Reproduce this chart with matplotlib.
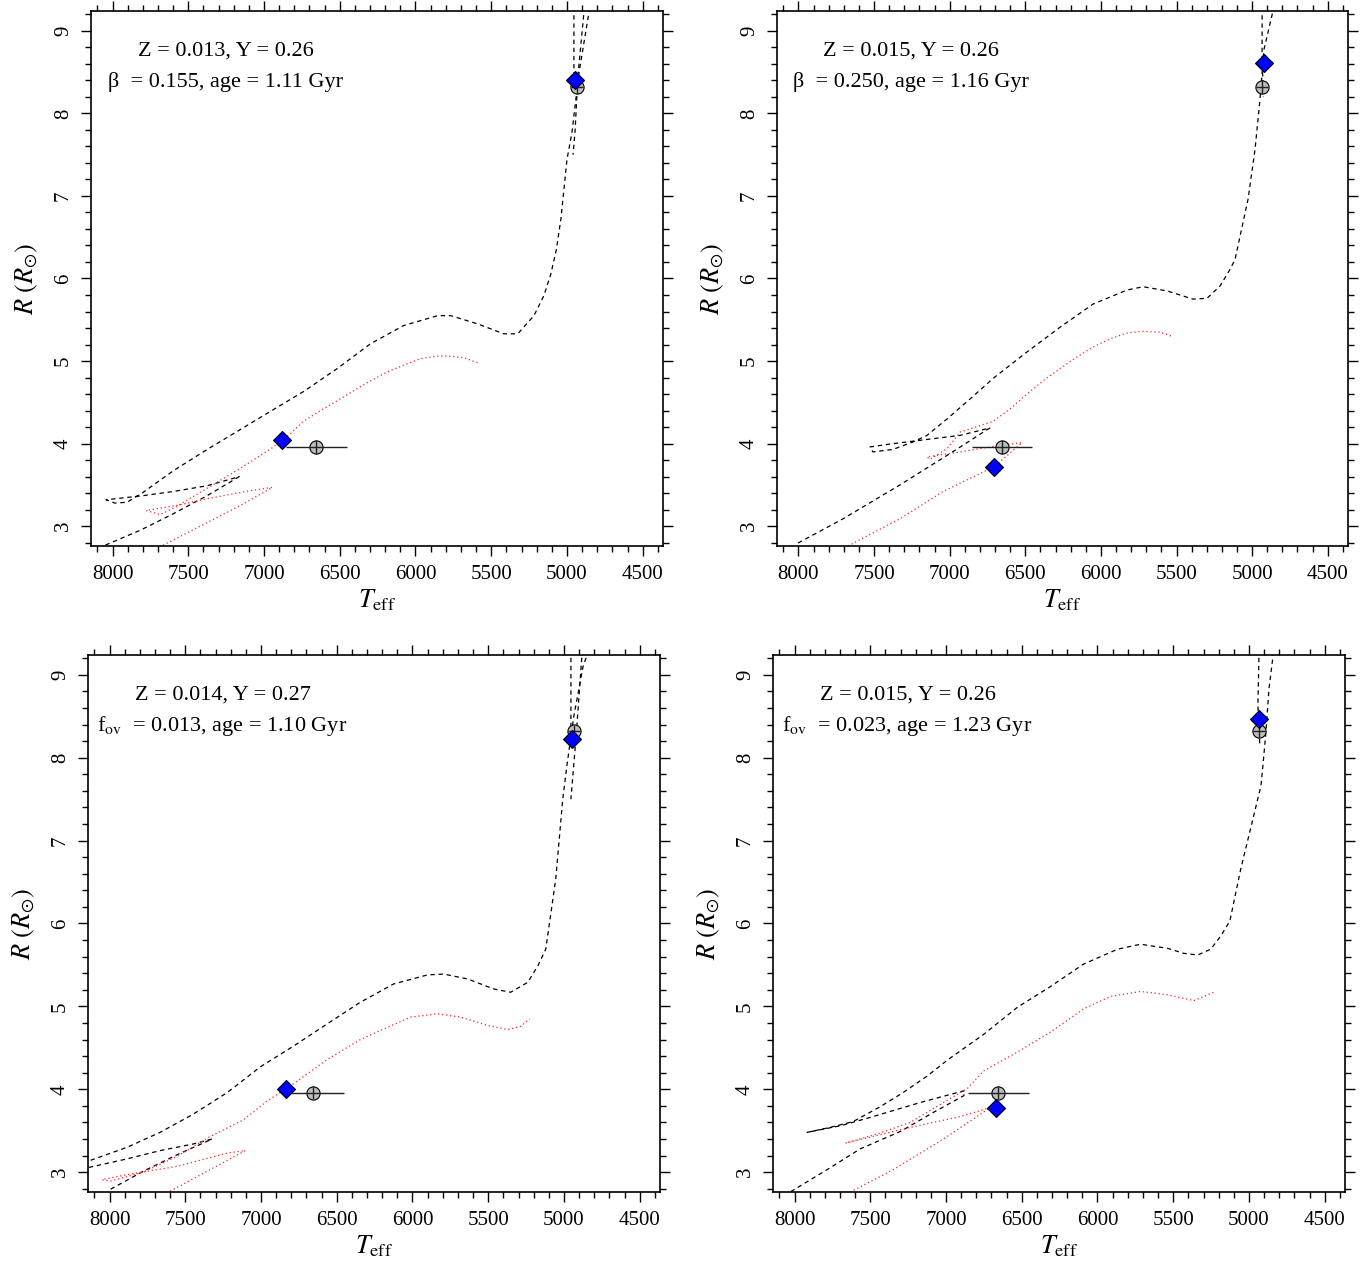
import matplotlib.pyplot as plt
from matplotlib.ticker import MultipleLocator

plt.rcParams['font.family'] = ['Liberation Serif', 'DejaVu Serif']
plt.rcParams['mathtext.fontset'] = 'stix'

# observed stars (Teff, R, errors)
star_T = [6655, 4935]
star_R = [3.96, 8.32]
star_Terr = [200, 40]
star_Rerr = [0.08, 0.08]

# ---- panel 1: Z=0.013, beta=0.155
p1_black_T = [8083, 8049, 7818, 7600, 7375, 7164, 7375, 7600, 7798, 8043, 7985, 7904, 7798,
              7600, 7375, 7157, 6958, 6740, 6516, 6297, 6078, 5854, 5768, 5589, 5417, 5325,
              5218, 5153, 5107, 5070, 5040, 5000, 4967, 4920, 4855, 4830]
p1_black_R = [2.70, 2.77, 2.95, 3.15, 3.37, 3.60, 3.49, 3.42, 3.37, 3.32, 3.28, 3.29, 3.41,
              3.67, 3.93, 4.17, 4.39, 4.63, 4.91, 5.21, 5.43, 5.55, 5.55, 5.45, 5.33, 5.33,
              5.55, 5.79, 6.05, 6.35, 6.72, 7.44, 7.77, 8.50, 9.22, 9.50]
p1_top2_T = [4870, 4888, 4927, 4947, 4960]
p1_top2_R = [9.50, 9.22, 8.47, 7.77, 7.50]
p1_top3_T = [4954, 4954, 4950]
p1_top3_R = [9.50, 8.45, 8.30]
p1_red_T = [7666, 7422, 7157, 6945, 7091, 7355, 7554, 7778, 7686, 7586, 7375, 7157, 6945,
            6826, 6740, 6627, 6516, 6409, 6297, 6185, 6078, 5966, 5854, 5768, 5682, 5589]
p1_red_R = [2.77, 3.00, 3.25, 3.47, 3.43, 3.34, 3.26, 3.19, 3.14, 3.23, 3.46, 3.70, 3.95,
            4.12, 4.27, 4.40, 4.52, 4.64, 4.76, 4.87, 4.95, 5.03, 5.06, 5.06, 5.04, 4.98]
p1_model_T = [6879, 4948]
p1_model_R = [4.04, 8.41]

# ---- panel 2: Z=0.015, beta=0.250
p2_black_T = [8024, 8009, 7705, 7329, 6998, 6734, 6931, 7196, 7375, 7527, 7508, 7375, 7243,
              7150, 7017, 6866, 6713, 6489, 6270, 6052, 5828, 5721, 5563, 5391, 5298, 5212,
              5146, 5113, 5027, 4981, 4948, 4922, 4862, 4830]
p2_black_R = [2.71, 2.79, 3.09, 3.50, 3.88, 4.19, 4.10, 4.04, 4.00, 3.96, 3.90, 3.93, 4.02,
              4.10, 4.30, 4.54, 4.79, 5.11, 5.41, 5.69, 5.86, 5.90, 5.85, 5.75, 5.76, 5.91,
              6.11, 6.23, 6.96, 7.56, 8.17, 8.77, 9.24, 9.50]
p2_top2_T = [4934, 4934, 4934, 4925]
p2_top2_R = [9.50, 9.24, 8.65, 8.20]
p2_red_T = [7673, 7329, 7044, 6707, 6522, 6667, 6931, 7150, 7130, 7017, 6931, 6713, 6601,
            6489, 6383, 6270, 6158, 6052, 5939, 5828, 5721, 5609, 5530]
p2_red_R = [2.76, 3.09, 3.42, 3.72, 4.01, 3.98, 3.90, 3.84, 3.81, 3.94, 4.14, 4.27, 4.42,
            4.60, 4.76, 4.91, 5.05, 5.17, 5.27, 5.34, 5.36, 5.35, 5.30]
p2_model_T = [6707, 4921]
p2_model_R = [3.72, 8.61]

# ---- panel 3: Z=0.014, fov=0.013
p3_black_T = [8027, 7997, 7778, 7554, 7322, 7447, 7666, 7884, 8129, 8272, 8324, 8272, 8129,
              7884, 7666, 7447, 7223, 7117, 7005, 6786, 6562, 6344, 6125, 5900, 5794, 5635,
              5463, 5352, 5239, 5172, 5120, 5054, 5008, 4981, 4935, 4874, 4836, 4815]
p3_black_R = [2.72, 2.79, 3.01, 3.21, 3.40, 3.34, 3.26, 3.16, 3.06, 3.02, 3.06, 3.11, 3.14,
              3.30, 3.48, 3.70, 3.96, 4.11, 4.27, 4.52, 4.79, 5.05, 5.27, 5.38, 5.39, 5.33,
              5.21, 5.17, 5.29, 5.49, 5.69, 6.54, 7.50, 7.90, 8.50, 9.10, 9.30, 9.50]
p3_top2_T = [4865, 4881, 4921, 4954]
p3_top2_R = [9.50, 9.24, 8.23, 7.50]
p3_top3_T = [4954, 4954, 4950]
p3_top3_R = [9.50, 8.40, 8.25]
p3_red_T = [7600, 7336, 7104, 7223, 7554, 7884, 8049, 7997, 7778, 7554, 7336, 7117, 6958,
            6806, 6562, 6344, 6125, 6013, 5834, 5682, 5503, 5371, 5285, 5226]
p3_red_R = [2.77, 3.03, 3.26, 3.23, 3.07, 2.97, 2.91, 2.89, 3.00, 3.19, 3.43, 3.63, 3.86,
            4.04, 4.36, 4.60, 4.78, 4.87, 4.91, 4.87, 4.77, 4.72, 4.76, 4.85]
p3_model_T = [6833, 4948]
p3_model_R = [4.00, 8.23]

# ---- panel 4: Z=0.015, fov=0.023
p4_black_T = [8065, 8029, 7785, 7567, 7302, 7084, 6885, 6872, 6885, 7170, 7501, 7696, 7917,
              7765, 7613, 7434, 7283, 7124, 6985, 6753, 6528, 6310, 6092, 5867, 5715, 5536,
              5431, 5338, 5252, 5186, 5126, 5054, 4974, 4921, 4908, 4888, 4868, 4841, 4825]
p4_black_R = [2.70, 2.76, 3.03, 3.28, 3.49, 3.72, 3.92, 3.96, 3.98, 3.84, 3.66, 3.56, 3.48,
              3.54, 3.61, 3.79, 3.96, 4.16, 4.36, 4.66, 4.99, 5.24, 5.51, 5.69, 5.75, 5.70,
              5.64, 5.62, 5.69, 5.85, 6.03, 6.66, 7.26, 7.66, 7.90, 8.31, 8.83, 9.23, 9.50]
p4_top2_T = [4934, 4934, 4941, 4928]
p4_top2_R = [9.50, 9.23, 8.63, 8.14]
p4_red_T = [7633, 7348, 7017, 6707, 6906, 7236, 7665, 7454, 7236, 7017, 6859, 6753, 6528,
            6310, 6092, 5914, 5715, 5536, 5364, 5232]
p4_red_R = [2.76, 3.03, 3.40, 3.78, 3.67, 3.54, 3.35, 3.46, 3.60, 3.84, 4.01, 4.22, 4.45,
            4.69, 4.97, 5.12, 5.18, 5.14, 5.07, 5.17]
p4_model_T = [6667, 4934]
p4_model_R = [3.77, 8.47]

labels = [
    ("Z = 0.013, Y = 0.26", "\u03b2  = 0.155, age = 1.11 Gyr"),
    ("Z = 0.015, Y = 0.26", "\u03b2  = 0.250, age = 1.16 Gyr"),
    ("Z = 0.014, Y = 0.27", r"f$_{\rm ov}$  = 0.013, age = 1.10 Gyr"),
    ("Z = 0.015, Y = 0.26", r"f$_{\rm ov}$  = 0.023, age = 1.23 Gyr"),
]

panels = [
    ([0.0666, 0.567, 0.4184, 0.4243], [(p1_black_T, p1_black_R), (p1_top2_T, p1_top2_R), (p1_top3_T, p1_top3_R)],
     (p1_red_T, p1_red_R), (p1_model_T, p1_model_R)),
    ([0.5684, 0.567, 0.4177, 0.4243], [(p2_black_T, p2_black_R), (p2_top2_T, p2_top2_R)],
     (p2_red_T, p2_red_R), (p2_model_T, p2_model_R)),
    ([0.0644, 0.0547, 0.4184, 0.4259], [(p3_black_T, p3_black_R), (p3_top2_T, p3_top2_R), (p3_top3_T, p3_top3_R)],
     (p3_red_T, p3_red_R), (p3_model_T, p3_model_R)),
    ([0.5655, 0.0547, 0.4184, 0.4259], [(p4_black_T, p4_black_R), (p4_top2_T, p4_top2_R)],
     (p4_red_T, p4_red_R), (p4_model_T, p4_model_R)),
]

fig = plt.figure(figsize=(13.67, 12.61), dpi=100)

for (rect, blacks, red, model), (l1, l2) in zip(panels, labels):
    ax = fig.add_axes(rect)
    for bt, br in blacks:
        ax.plot(bt, br, color='black', lw=0.9, dashes=(3.5, 3.0))
    ax.plot(red[0], red[1], color='#ff2020', lw=0.9, dashes=(1.0, 2.2))
    ax.plot(star_T, star_R, 'o', ms=9.5, mfc='#bebebe', mec='black', mew=0.8, zorder=3)
    ax.errorbar(star_T, star_R, xerr=star_Terr, yerr=star_Rerr, fmt='none',
                ecolor='#222222', elinewidth=1.0, capsize=0, zorder=4)
    ax.plot(model[0], model[1], 'D', ms=9, mfc='#0000ff', mec='black', mew=0.8, zorder=5)

    ax.set_xlim(8142, 4366)
    ax.set_ylim(2.76, 9.24)
    ax.xaxis.set_major_locator(MultipleLocator(500))
    ax.xaxis.set_minor_locator(MultipleLocator(100))
    ax.yaxis.set_major_locator(MultipleLocator(1))
    ax.yaxis.set_minor_locator(MultipleLocator(0.2))
    ax.tick_params(which='both', direction='out', top=True, right=True,
                   labeltop=False, labelright=False, width=1.0, labelsize=15)
    ax.tick_params(which='major', length=7, pad=7)
    ax.tick_params(which='minor', length=4)
    ax.tick_params(axis='y', labelrotation=90, pad=6)
    for lab in ax.get_yticklabels():
        lab.set_verticalalignment('center')
    for s in ax.spines.values():
        s.set_linewidth(1.2)

    ax.set_xlabel(r'$T_{\rm eff}$', fontsize=19, labelpad=2)
    ax.set_ylabel(r'$R\ (R_{\odot})$', fontsize=19, labelpad=10)

    ax.text(0.235, 0.925, l1, transform=ax.transAxes, ha='center', va='center', fontsize=16)
    ax.text(0.235, 0.868, l2, transform=ax.transAxes, ha='center', va='center', fontsize=16)

fig.savefig('out.png', dpi=100)
